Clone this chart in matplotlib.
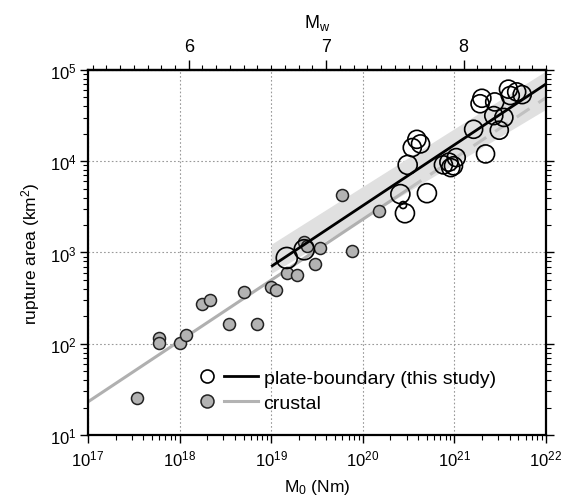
import numpy as np
import matplotlib
matplotlib.use("Agg")
import matplotlib.pyplot as plt
from matplotlib.ticker import (FixedLocator, MultipleLocator, LogLocator,
                               NullFormatter, FormatStrFormatter)
from matplotlib.legend_handler import HandlerTuple
from matplotlib.lines import Line2D

plt.rcParams['font.family'] = ['Liberation Sans', 'DejaVu Sans']
plt.rcParams['mathtext.fontset'] = 'custom'
plt.rcParams['mathtext.rm'] = 'Liberation Sans'
plt.rcParams['mathtext.it'] = 'Liberation Sans:italic'
plt.rcParams['mathtext.default'] = 'regular'

# plate-boundary events (log10 M0, log10 area, marker diameter px)
pb_logm0 = [19.17, 19.36, 20.41, 20.44, 20.46, 20.70, 20.49, 20.54, 20.59, 20.63,
            20.88, 20.94, 20.96, 20.99, 21.02, 21.21, 21.34, 21.30, 21.28, 21.44,
            21.43, 21.54, 21.49, 21.59, 21.61, 21.68, 21.74]
pb_logA = [2.94, 3.03, 3.64, 3.52, 3.43, 3.65, 3.96, 4.15, 4.24, 4.19,
           3.96, 3.99, 3.93, 3.95, 4.04, 4.35, 4.08, 4.69, 4.63, 4.65,
           4.50, 4.48, 4.34, 4.79, 4.72, 4.76, 4.73]
pb_size = [21, 20, 19, 7, 19, 19, 19, 18, 18, 18,
           18, 18, 18, 18, 18, 18, 18, 18, 18, 18,
           18, 18, 18, 18, 18, 18, 18]

# crustal events
cr_logm0 = [17.54, 17.78, 17.78, 18.00, 18.07, 18.25, 18.33, 18.54, 18.70, 18.84,
            19.00, 19.05, 19.17, 19.28, 19.36, 19.39, 19.48, 19.53, 19.77, 19.88, 20.18]
cr_logA = [1.40, 2.06, 2.01, 2.01, 2.10, 2.44, 2.48, 2.22, 2.57, 2.22,
           2.62, 2.59, 2.77, 2.75, 3.12, 3.07, 2.87, 3.05, 3.63, 3.02, 3.45]

# scaling fits: log A = slope*log M0 + intercept
pb_fit = (2/3, -9.82)
cr_fit = (2/3, -9.97)
pb_range = [19.0, 22.0]
cr_range = [17.0, 20.5]   # solid part, dashed beyond
cr_extra = [20.5, 22.0]

# shaded band around plate-boundary fit
band_logm0 = [19.0, 22.0]
band_hi = [3.09, 4.99]
band_lo = [2.77, 4.57]

fig = plt.figure(figsize=(5.63, 5.02), dpi=100)
ax = fig.add_axes([0.1563, 0.1315, 0.8135, 0.7271])

bx = 10 ** np.array(band_logm0)
ax.fill_between(bx, 10 ** np.array(band_lo), 10 ** np.array(band_hi),
                color='#e0e0e0', lw=0, zorder=1)

def fitline(fit, r):
    x = np.array(r)
    return 10 ** x, 10 ** (fit[0] * x + fit[1])

ax.plot(*fitline(cr_fit, cr_range), color='#b0b0b0', lw=2.2, zorder=2,
        solid_capstyle='butt')
ax.plot(*fitline(cr_fit, cr_extra), color='#c0c0c0', lw=2.2, zorder=2,
        dashes=(5, 3.5))

ax.scatter(10 ** np.array(cr_logm0), 10 ** np.array(cr_logA), s=(12 * 0.72) ** 2,
           facecolor='#b3b3b3', edgecolor='#222222', lw=1.1, zorder=3)
ax.plot(*fitline(pb_fit, pb_range), color='black', lw=2.0, zorder=4,
        solid_capstyle='butt')
ax.scatter(10 ** np.array(pb_logm0), 10 ** np.array(pb_logA),
           s=(np.array(pb_size) * 0.72) ** 2,
           facecolor='none', edgecolor='black', lw=1.2, zorder=5)

ax.set_xscale('log')
ax.set_yscale('log')
ax.set_xlim(1e17, 1e22)
ax.set_ylim(1e1, 1e5)

ax.xaxis.set_major_locator(LogLocator(base=10, numticks=10))
ax.yaxis.set_major_locator(LogLocator(base=10, numticks=10))
ax.xaxis.set_minor_locator(LogLocator(base=10, subs=np.arange(2, 10), numticks=20))
ax.yaxis.set_minor_locator(LogLocator(base=10, subs=np.arange(2, 10), numticks=20))
ax.xaxis.set_minor_formatter(NullFormatter())
ax.yaxis.set_minor_formatter(NullFormatter())

ax.grid(True, which='major', color='#999999', ls=(0, (1.5, 2)), lw=0.8)
ax.set_axisbelow(True)

for s in ax.spines.values():
    s.set_linewidth(1.6)

ax.tick_params(axis='x', which='major', direction='out', length=6, width=1.0,
               labelsize=12, pad=4, top=False)
ax.tick_params(axis='x', which='minor', direction='out', length=3.5, width=0.8, top=False)
ax.tick_params(axis='y', which='major', direction='out', length=6, width=1.0,
               labelsize=12, pad=2, right=True)
ax.tick_params(axis='y', which='minor', direction='out', length=3.5, width=0.8, right=True)

ax.set_xlabel('M$_0$ (Nm)', fontsize=12.5, labelpad=6)
ax.set_ylabel('rupture area (km$^2$)', fontsize=12.5, labelpad=6)

def m0_to_mw(m):
    return 2.0 / 3.0 * (np.log10(np.clip(m, 1e-300, None)) - 9.1)

def mw_to_m0(w):
    return 10 ** (1.5 * np.asarray(w) + 9.1)

sec = ax.secondary_xaxis('top', functions=(m0_to_mw, mw_to_m0))
sec.xaxis.set_major_locator(FixedLocator([6, 7, 8]))
sec.xaxis.set_minor_locator(MultipleLocator(0.1))
sec.xaxis.set_major_formatter(FormatStrFormatter('%d'))
sec.xaxis.set_minor_formatter(NullFormatter())
sec.tick_params(which='major', direction='out', length=7, width=1.0, labelsize=13, pad=4)
sec.tick_params(which='minor', direction='out', length=3.5, width=0.8)
sec.spines['top'].set_linewidth(1.6)
sec.set_xlabel('M$_w$', fontsize=13, labelpad=8)

h_pb_m = Line2D([], [], ls='none', marker='o', ms=13 * 0.72, mfc='white', mec='black', mew=1.2)
h_pb_l = Line2D([], [], color='black', lw=2.0)
h_cr_m = Line2D([], [], ls='none', marker='o', ms=13 * 0.72, mfc='#b3b3b3', mec='#222222', mew=1.1)
h_cr_l = Line2D([], [], color='#b3b3b3', lw=2.2)
ax.legend([(h_pb_m, h_pb_l), (h_cr_m, h_cr_l)],
          ['plate-boundary (this study)', 'crustal'],
          handler_map={tuple: HandlerTuple(ndivide=2, pad=0)},
          loc='lower left', bbox_to_anchor=(0.222, 0.064), frameon=False,
          fontsize=14, handlelength=3.5, handletextpad=0.3, labelspacing=0.35,
          borderpad=0, borderaxespad=0)

fig.savefig('out.png', dpi=100)
